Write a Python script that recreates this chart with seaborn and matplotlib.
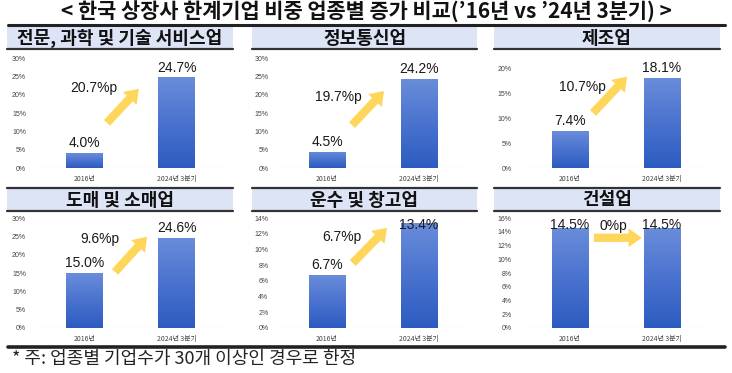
import matplotlib
matplotlib.use("Agg")
import matplotlib.pyplot as plt
import numpy as np
import pandas as pd
import seaborn as sns
from matplotlib.patches import Rectangle
from matplotlib.lines import Line2D
from matplotlib.colors import LinearSegmentedColormap

# ---------------- data ----------------
title = "< 한국 상장사 한계기업 비중 업종별 증가 비교(’16년 vs ’24년 3분기) >"
periods = ["2016년", "2024년 3분기"]
industries = ["전문, 과학 및 기술 서비스업", "정보통신업", "제조업",
              "도매 및 소매업", "운수 및 창고업", "건설업"]
share_2016 = [4.0, 4.5, 7.4, 15.0, 6.7, 14.5]
share_2024q3 = [24.7, 24.2, 18.1, 24.6, 13.4, 14.5]
tick_max = [30, 30, 20, 30, 14, 16]
tick_step = [5, 5, 5, 5, 2, 2]
footnote = "* 주: 업종별 기업수가 30개 이상인 경우로 한정"

# ---------------- style / layout ----------------
sns.set_theme(style="white")
KR = ["Noto Sans CJK KR", "DejaVu Sans"]
LAT = ["Liberation Sans", "Noto Sans CJK KR", "DejaVu Sans"]
plt.rcParams["font.family"] = KR

W, H = 732, 373
fig = plt.figure(figsize=(W / 100, H / 100), dpi=100)

def fx(px):
    return px / W

def fy(py):
    return 1 - py / H

col_left = [38.5, 281, 524]
ax_w = 184
row_top = [58, 218]
ax_h = 110
head_x = [(7, 233), (252, 477), (494, 720)]
head_y = [(26, 49), (188, 211)]
ylim_top = [30, 30, 22, 30, 14, 16]

# arrow layout (axes fraction): tail, head, label position
arrow_layout = [
    ((0.372, 0.41), (0.545, 0.72), (0.30, 0.73)),
    ((0.386, 0.39), (0.56, 0.70), (0.31, 0.645)),
    ((0.375, 0.50), (0.56, 0.83), (0.315, 0.736)),
    ((0.416, 0.51), (0.59, 0.83), (0.334, 0.81)),
    ((0.39, 0.59), (0.576, 0.91), (0.33, 0.827)),
    ((0.38, 0.82), (0.64, 0.82), (0.484, 0.93)),
]

grad_cmap = LinearSegmentedColormap.from_list("bar", ["#2C5BC0", "#4A73CF", "#6A8DDA"])
grad = np.linspace(0, 1, 256).reshape(-1, 1)
arrow_color = "#FFD65C"

# title
fig.text(0.5, fy(12), title, ha="center", va="center", fontsize=15,
         fontweight="bold", color="#111111", family=KR)
# top rule
fig.add_artist(Line2D([fx(8), fx(725)], [fy(25), fy(25)], color="#222222", lw=2.2))
# bottom rule
fig.add_artist(Line2D([fx(8), fx(725)], [fy(347), fy(347)], color="#222222", lw=2.6))

for i, name in enumerate(industries):
    r, c = divmod(i, 3)
    # header box
    x0, x1 = head_x[c]
    y0, y1 = head_y[r]
    fig.add_artist(Rectangle((fx(x0), fy(y1)), fx(x1 - x0), (y1 - y0) / H,
                             facecolor="#DDE4F6", edgecolor="none"))
    fig.add_artist(Line2D([fx(x0), fx(x1)], [fy(y1), fy(y1)], color="#333333", lw=1.6))
    if r == 1:
        fig.add_artist(Line2D([fx(x0), fx(x1)], [fy(y0), fy(y0)], color="#333333", lw=1.6))
    fig.text(fx((x0 + x1) / 2), fy((y0 + y1) / 2 + 0.5), name, ha="center", va="center",
             fontsize=13, fontweight="bold", color="#111111", family=KR)

    # axes
    ax = fig.add_axes([fx(col_left[c]), fy(row_top[r] + ax_h), ax_w / W, ax_h / H])
    df = pd.DataFrame({"period": periods, "share": [share_2016[i], share_2024q3[i]]})
    sns.barplot(data=df, x="period", y="share", ax=ax, width=0.4, color="#3F6ACB",
                saturation=1, edgecolor="none")
    ax.set_xlim(-0.5, 1.5)
    ax.set_ylim(0, ylim_top[i])
    # gradient fill
    for p in ax.patches:
        bx, by = p.get_x(), p.get_y()
        bw, bh = p.get_width(), p.get_height()
        im = ax.imshow(grad, extent=[bx, bx + bw, by, by + bh], origin="lower",
                       aspect="auto", cmap=grad_cmap, zorder=p.get_zorder() + 0.1)
        im.set_clip_path(p)
    ax.set_xlim(-0.5, 1.5)
    ax.set_ylim(0, ylim_top[i])
    ax.set_aspect("auto")

    for s in ax.spines.values():
        s.set_visible(False)
    ax.axhline(0, color="#D9D9D9", lw=0.8, zorder=0)
    ticks = np.arange(0, tick_max[i] + 0.01, tick_step[i])
    ax.set_yticks(ticks)
    ax.set_yticklabels([f"{int(t)}%" for t in ticks], fontsize=5, color="#444444",
                       family=LAT)
    ax.set_xticks([0, 1])
    ax.set_xticklabels(periods, fontsize=5, color="#444444", family=KR)
    ax.tick_params(axis="both", length=0, pad=5)
    ax.tick_params(axis="y", pad=9)
    ax.set_xlabel("")
    ax.set_ylabel("")
    ax.grid(False)

    # value labels
    top = ylim_top[i]
    for xpos, v in enumerate([share_2016[i], share_2024q3[i]]):
        ylab = min(v + 0.09 * top, 0.94 * top)
        ax.text(xpos, ylab, f"{v:.1f}%", ha="center", va="center", fontsize=10,
                color="#1a1a1a", family=LAT, clip_on=False, zorder=5)

    # change arrow
    tail, head, lab = arrow_layout[i]
    ax.annotate("", xy=head, xytext=tail, xycoords="axes fraction",
                textcoords="axes fraction",
                arrowprops=dict(arrowstyle="simple,head_width=1.35,head_length=0.95,tail_width=0.6",
                                mutation_scale=10, color=arrow_color, shrinkA=0, shrinkB=0,
                                lw=0), zorder=4)
    change = round(share_2024q3[i] - share_2016[i], 1)
    ax.text(lab[0], lab[1], f"{change:g}%p", transform=ax.transAxes, ha="center",
            va="center", fontsize=10, color="#1a1a1a", family=LAT, zorder=5)

fig.text(fx(12), fy(359), footnote, ha="left", va="center", fontsize=13,
         color="#222222", family=KR)

fig.savefig("out.png", dpi=100)
